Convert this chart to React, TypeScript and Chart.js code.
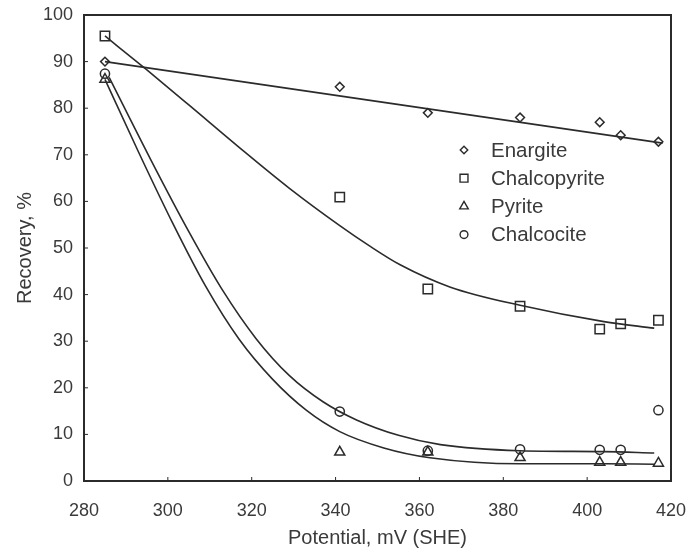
import React, { useEffect, useRef } from "react";
import { Chart, registerables } from "chart.js";
import { drawPoint } from "chart.js/helpers";

Chart.register(...registerables);

// ---- data ----
const potentials = [285, 341, 362, 384, 403, 408, 417];
const enargite = [90, 84.6, 79.0, 78.0, 77.0, 74.2, 72.8];
const chalcopyrite = [95.5, 60.9, 41.2, 37.5, 32.6, 33.7, 34.5];
const pyrite = [86.2, 6.2, 6.2, 5.0, 4.0, 4.0, 3.8];
const chalcocite = [87.4, 14.9, 6.5, 6.8, 6.7, 6.7, 15.2];

// fitted curves
const enargiteFitX = [285, 418];
const enargiteFitY = [90, 72.5];
const chalcopyriteFitX = [285, 295, 305, 317, 329, 341, 348, 355.4, 367.4, 384, 404, 416];
const chalcopyriteFitY = [95.5, 88.2, 80.7, 71.6, 62.8, 54.8, 50.5, 46.4, 41.6, 37.7, 34.2, 32.8];
const pyriteFitX = [285, 293, 301, 309, 317, 325, 333, 341, 351.5, 362.5, 384, 404, 416];
const pyriteFitY = [86.2, 70.6, 55.6, 41.8, 30.4, 21.8, 15.2, 10.6, 7.1, 5.0, 3.7, 3.7, 3.6];
const chalcociteFitX = [286, 296, 305, 313, 321, 329, 337, 345, 355, 365, 384, 404, 416];
const chalcociteFitY = [86.6, 68.8, 53.5, 41.0, 30.6, 22.6, 17.0, 13.1, 9.8, 7.8, 6.5, 6.3, 6.0];

const seriesNames = ["Enargite", "Chalcopyrite", "Pyrite", "Chalcocite"];
const xTickValues = [280, 300, 320, 340, 360, 380, 400, 420];
const yTickValues = [0, 10, 20, 30, 40, 50, 60, 70, 80, 90, 100];

const INK = "#2b2b2b";
const TEXT = "#3a3a3a";
const FONT = "'Liberation Sans', Arial, sans-serif";

const markerStyles = [
  { pointStyle: "rectRot", radius: 4.4 },
  { pointStyle: "rect", radius: 6.6 },
  { pointStyle: "triangle", radius: 5.8 },
  { pointStyle: "circle", radius: 4.6 },
];

const pts = (xs: number[], ys: number[]) => xs.map((x, i) => ({ x, y: ys[i] }));

const framePlugin = {
  id: "frame",
  beforeDatasetsDraw(chart: any) {
    const { ctx, chartArea } = chart;
    const { left, top, right, bottom } = chartArea;
    const xs = chart.scales.x;
    const ys = chart.scales.y;
    ctx.save();
    ctx.strokeStyle = INK;
    ctx.lineWidth = 2;
    ctx.strokeRect(left, top, right - left, bottom - top);
    ctx.lineWidth = 1;
    ctx.beginPath();
    ys.ticks.forEach((t: any) => {
      const py = ys.getPixelForValue(t.value);
      ctx.moveTo(left, py);
      ctx.lineTo(left + 4, py);
    });
    xs.ticks.forEach((t: any) => {
      const px = xs.getPixelForValue(t.value);
      ctx.moveTo(px, bottom);
      ctx.lineTo(px, bottom - 4);
    });
    ctx.stroke();
    ctx.restore();
  },
};

const legendPlugin = {
  id: "customLegend",
  afterDraw(chart: any) {
    const { ctx } = chart;
    const markerX = 464;
    const textX = 491;
    const startY = 150;
    const rowH = 28.2;
    ctx.save();
    seriesNames.forEach((name, i) => {
      const y = startY + i * rowH;
      ctx.strokeStyle = INK;
      ctx.fillStyle = "rgba(0,0,0,0)";
      ctx.lineWidth = 1.4;
      const ms = markerStyles[i];
      drawPoint(ctx, { pointStyle: ms.pointStyle as any, radius: ms.radius * 0.85, rotation: 0, borderWidth: 1.4 }, markerX, y);
      ctx.fillStyle = TEXT;
      ctx.font = `20.5px ${FONT}`;
      ctx.textAlign = "left";
      ctx.textBaseline = "middle";
      ctx.fillText(name, textX, y + 1);
    });
    ctx.restore();
  },
};

export default function App() {
  const ref = useRef<HTMLCanvasElement | null>(null);

  useEffect(() => {
    if (!ref.current) return;
    const values = [enargite, chalcopyrite, pyrite, chalcocite];
    const fits = [
      pts(enargiteFitX, enargiteFitY),
      pts(chalcopyriteFitX, chalcopyriteFitY),
      pts(pyriteFitX, pyriteFitY),
      pts(chalcociteFitX, chalcociteFitY),
    ];

    const datasets: any[] = [];
    fits.forEach((data, i) => {
      datasets.push({
        label: seriesNames[i] + " fit",
        data,
        showLine: true,
        borderColor: INK,
        borderWidth: 1.6,
        pointRadius: 0,
        cubicInterpolationMode: "monotone",
        fill: false,
      });
    });
    values.forEach((vals, i) => {
      datasets.push({
        label: seriesNames[i],
        data: pts(potentials, vals),
        showLine: false,
        pointStyle: markerStyles[i].pointStyle,
        pointRadius: markerStyles[i].radius,
        pointBorderColor: INK,
        pointBackgroundColor: "rgba(0,0,0,0)",
        pointBorderWidth: 1.5,
      });
    });

    const chart = new Chart(ref.current, {
      type: "scatter",
      data: { datasets },
      options: {
        animation: false,
        responsive: false,
        devicePixelRatio: 1,
        layout: { padding: { top: 15, right: 15, left: 0, bottom: 0 } },
        plugins: {
          legend: { display: false },
          tooltip: { enabled: false },
        },
        scales: {
          x: {
            type: "linear",
            min: xTickValues[0],
            max: xTickValues[xTickValues.length - 1],
            afterBuildTicks: (s: any) => {
              s.ticks = xTickValues.map((v) => ({ value: v }));
            },
            afterFit: (s: any) => {
              s.height = 73;
              s.paddingLeft = 0;
              s.paddingRight = 0;
            },
            grid: { display: false, drawTicks: false },
            border: { display: false },
            ticks: {
              color: TEXT,
              font: { family: FONT, size: 18 },
              padding: 19,
              maxRotation: 0,
            },
            title: {
              display: true,
              text: "Potential, mV (SHE)",
              color: TEXT,
              font: { family: FONT, size: 20 },
              padding: { top: 0, bottom: 4 },
            },
          },
          y: {
            type: "linear",
            min: yTickValues[0],
            max: yTickValues[yTickValues.length - 1],
            afterBuildTicks: (s: any) => {
              s.ticks = yTickValues.map((v) => ({ value: v }));
            },
            afterFit: (s: any) => {
              s.width = 84;
              s.paddingTop = 0;
              s.paddingBottom = 0;
            },
            grid: { display: false, drawTicks: false },
            border: { display: false },
            ticks: {
              color: TEXT,
              font: { family: FONT, size: 18 },
              padding: 11,
            },
            title: {
              display: true,
              text: "Recovery, %",
              color: TEXT,
              font: { family: FONT, size: 20 },
              padding: { top: 13, bottom: 0 },
            },
          },
        },
      } as any,
      plugins: [framePlugin, legendPlugin],
    });
    return () => chart.destroy();
  }, []);

  return (
    <div style={{ position: "absolute", left: 0, top: 0, width: 686, height: 554, background: "#fff" }}>
      <canvas ref={ref} width={686} height={554} style={{ display: "block" }} />
    </div>
  );
}
